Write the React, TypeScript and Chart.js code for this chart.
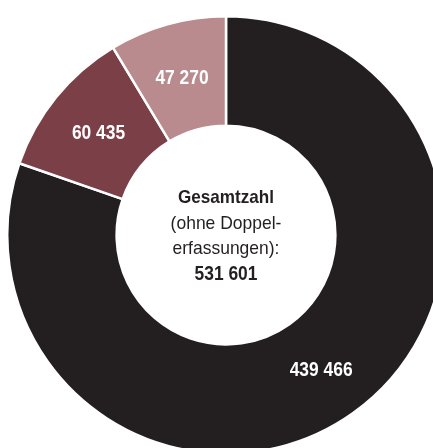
import React, { useEffect, useRef } from "react";
import { Chart, ArcElement, DoughnutController } from "chart.js";

Chart.register(ArcElement, DoughnutController);

const categories = ["Gruppe 1", "Gruppe 2", "Gruppe 3"];
const values = [439466, 60435, 47270];
const colors = ["#231f20", "#7b3f47", "#b98b8e"];
const totalValue = 531601;
const centerLines = ["Gesamtzahl", "(ohne Doppel-", "erfassungen):"];

const FONT = '"Liberation Sans", Arial, sans-serif';

function fmt(n: number): string {
  return String(n).replace(/\B(?=(\d{3})+(?!\d))/g, " ");
}

function drawText(
  ctx: CanvasRenderingContext2D,
  text: string,
  x: number,
  y: number,
  weight: string,
  size: number,
  color: string,
  scaleX: number
) {
  ctx.save();
  ctx.translate(x, y);
  ctx.scale(scaleX, 1);
  ctx.font = `${weight} ${size}px ${FONT}`;
  ctx.fillStyle = color;
  ctx.textAlign = "center";
  ctx.textBaseline = "alphabetic";
  ctx.fillText(text, 0, 0);
  ctx.restore();
}

const labelPlugin = {
  id: "sliceLabels",
  afterDatasetsDraw(chart: any) {
    const ctx = chart.ctx as CanvasRenderingContext2D;
    const meta = chart.getDatasetMeta(0);
    const size = 20;
    const capHalf = (size * 0.716) / 2;
    meta.data.forEach((arc: any, i: number) => {
      const p = arc.getCenterPoint();
      drawText(ctx, fmt(values[i]), p.x, p.y + capHalf, "bold", size, "#ffffff", 0.87);
    });
    const first = meta.data[0];
    const cx = first.x;
    const cy = first.y;
    const dark = "#231f20";
    drawText(ctx, centerLines[0], cx, cy - 32, "bold", 19, dark, 0.9);
    drawText(ctx, centerLines[1], cx, cy - 6.5, "normal", 19, dark, 0.92);
    drawText(ctx, centerLines[2], cx, cy + 19, "normal", 19, dark, 0.92);
    drawText(ctx, fmt(totalValue), cx, cy + 45, "bold", 20, dark, 0.87);
  },
};

export default function App() {
  const ref = useRef<HTMLCanvasElement | null>(null);

  useEffect(() => {
    if (!ref.current) return;
    const chart = new Chart(ref.current, {
      type: "doughnut",
      data: {
        labels: categories,
        datasets: [
          {
            data: values,
            backgroundColor: colors,
            borderColor: "#ffffff",
            borderWidth: 2.5,
          },
        ],
      },
      options: {
        animation: false,
        responsive: true,
        maintainAspectRatio: false,
        cutout: "50%",
        layout: { padding: 0 },
        events: [],
        plugins: {
          legend: { display: false },
          tooltip: { enabled: false },
        },
      },
      plugins: [labelPlugin],
    });
    return () => chart.destroy();
  }, []);

  return (
    <div
      style={{
        position: "fixed",
        left: 0,
        top: 0,
        width: 433,
        height: 448,
        overflow: "hidden",
        background: "#ffffff",
      }}
    >
      <div
        style={{
          position: "absolute",
          left: 6,
          top: 15,
          width: 440,
          height: 440,
        }}
      >
        <canvas ref={ref} />
      </div>
    </div>
  );
}
